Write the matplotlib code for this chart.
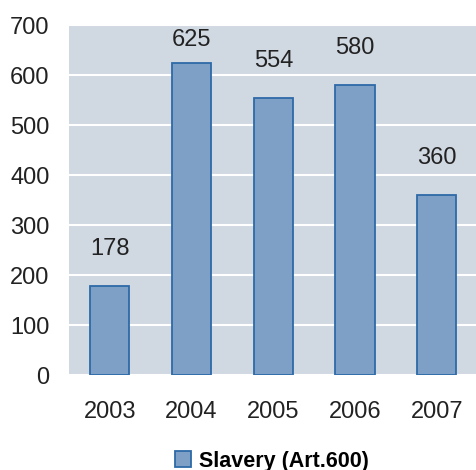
import matplotlib
matplotlib.use("Agg")
import matplotlib.pyplot as plt
from matplotlib.patches import Patch

years = ["2003", "2004", "2005", "2006", "2007"]
values = [178, 625, 554, 580, 360]
series_name = "Slavery (Art.600)"
yticks = [0, 100, 200, 300, 400, 500, 600, 700]

plt.rcParams['font.family'] = ['Liberation Sans', 'DejaVu Sans']

fig = plt.figure(figsize=(4.76, 4.70), dpi=100)
ax = fig.add_axes([69/476, 95/470, 1 - 69/476, 350/470])
ax.set_facecolor('#D0D8E2')

x = list(range(len(years)))
ax.bar(x, values, width=0.48, color='#7E9FC6', edgecolor='#2E6AA8', linewidth=1.3, zorder=3)

ax.set_ylim(0, 700)
ax.set_xlim(-0.5, 4.48)
ax.set_yticks(yticks)
ax.set_yticklabels([str(t) for t in yticks])
ax.set_xticks(x)
ax.set_xticklabels(years)
ax.yaxis.grid(True, color='white', linewidth=1.5, zorder=1)
ax.set_axisbelow(True)
for s in ax.spines.values():
    s.set_visible(False)
ax.tick_params(axis='y', length=0, pad=14, labelsize=17, labelcolor='#222222')
ax.tick_params(axis='x', length=0, pad=19, labelsize=17, labelcolor='#222222')

for xi, v in zip(x, values):
    ax.text(xi, min(v + 74, 671), str(v), ha='center', va='center', fontsize=17, color='#222222', zorder=4)

handle = Patch(facecolor='#7E9FC6', edgecolor='#2E6AA8', linewidth=1.3)
fig.legend([handle], [series_name], loc='center', bbox_to_anchor=(272/476, 1 - 461/470),
           frameon=False, prop={'weight': 'bold', 'size': 15.5}, handlelength=0.75, handleheight=0.75,
           handletextpad=0.4)

fig.savefig('out.png', dpi=100)
